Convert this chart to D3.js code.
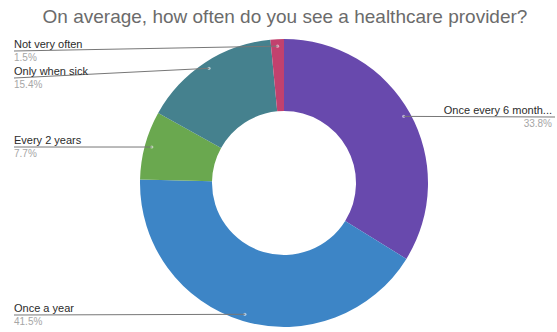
<!DOCTYPE html>
<html>
<head>
<meta charset="utf-8">
<script src="https://cdn.jsdelivr.net/npm/d3@7"></script>
<style>
  html, body { margin: 0; padding: 0; background: #fff; }
  svg { display: block; font-family: "Liberation Sans", Arial, sans-serif; }
</style>
</head>
<body>
<svg id="chart" width="557" height="332"></svg>
<script>
// Survey answers, in slice order (clockwise from 12 o'clock)
const categories = ["Once every 6 months", "Once a year", "Every 2 years", "Only when sick", "Not very often"];
const displayLabels = ["Once every 6 month...", "Once a year", "Every 2 years", "Only when sick", "Not very often"];
const shares = [33.8, 41.5, 7.7, 15.4, 1.5];
const colors = ["#6849ad", "#3d85c6", "#6aa84f", "#45818e", "#c2416e"];
const title = "On average, how often do you see a healthcare provider?";

// Label placement: side of the chart and the y of the leader line's outer end
const labelLayout = [
  { side: "right", y: 117 },
  { side: "left",  y: 315 },
  { side: "left",  y: 147 },
  { side: "left",  y: 78 },
  { side: "left",  y: 51 }
];

const W = 557, H = 332;
const cx = 284, cy = 183;
const outerR = 144, innerR = 72, dotR = 137;
const leftX = 14, rightX = 552;

const svg = d3.select("#chart");

svg.append("text")
  .attr("x", 285).attr("y", 23)
  .attr("text-anchor", "middle")
  .attr("font-size", 19)
  .attr("fill", "#6b6b6b")
  .text(title);

const pie = d3.pie().sort(null).value(d => d).startAngle(0).endAngle(2 * Math.PI);
const arcs = pie(shares);

const arc = d3.arc().innerRadius(innerR).outerRadius(outerR);
const dotArc = d3.arc().innerRadius(dotR).outerRadius(dotR);

const g = svg.append("g").attr("transform", `translate(${cx},${cy})`);

// Leader lines sit beneath the slices
const fmt = d3.format(".1f");
const leaders = svg.append("g");
arcs.forEach((a, i) => {
  const [dx, dy] = dotArc.centroid(a);
  const lay = labelLayout[i];
  const ex = lay.side === "left" ? leftX : rightX + 3;
  leaders.append("line")
    .attr("x1", cx + dx).attr("y1", cy + dy)
    .attr("x2", ex).attr("y2", lay.y)
    .attr("stroke", "#777777")
    .attr("stroke-width", 1);
});

g.selectAll("path.slice")
  .data(arcs)
  .join("path")
  .attr("class", "slice")
  .attr("d", arc)
  .attr("fill", (d, i) => colors[i]);

// Small markers where each leader line meets its slice
g.selectAll("circle.dot")
  .data(arcs)
  .join("circle")
  .attr("class", "dot")
  .attr("cx", d => dotArc.centroid(d)[0])
  .attr("cy", d => dotArc.centroid(d)[1])
  .attr("r", 1.6)
  .attr("fill", "#ffffff")
  .attr("fill-opacity", 0.55);

// Category name above the line, percentage below
const labels = svg.append("g");
arcs.forEach((a, i) => {
  const lay = labelLayout[i];
  const x = lay.side === "left" ? leftX : rightX;
  const anchor = lay.side === "left" ? "start" : "end";
  labels.append("text")
    .attr("x", x).attr("y", lay.y - 3)
    .attr("text-anchor", anchor)
    .attr("font-size", 11)
    .attr("fill", "#2b2b2b")
    .text(displayLabels[i]);
  labels.append("text")
    .attr("x", x).attr("y", lay.y + 10)
    .attr("text-anchor", anchor)
    .attr("font-size", 10)
    .attr("fill", "#a6a6a6")
    .text(fmt(shares[i]) + "%");
});
</script>
</body>
</html>
